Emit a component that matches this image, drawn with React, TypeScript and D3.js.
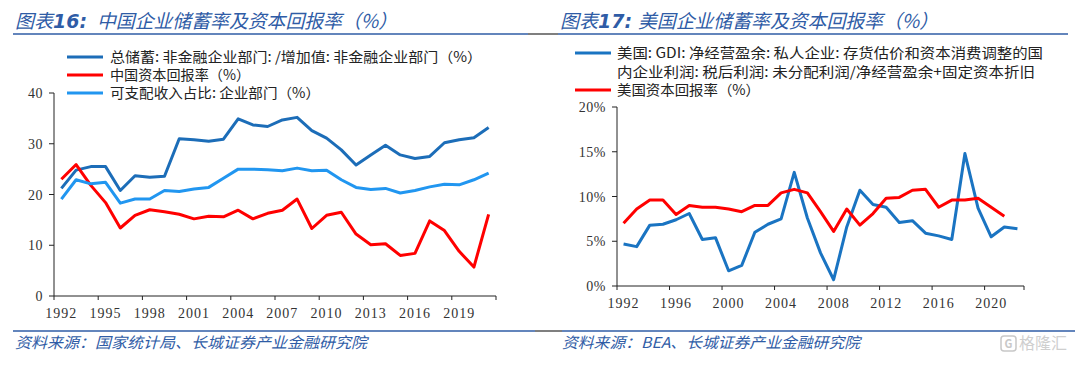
import * as d3 from 'd3'

// ---- data: China panel ----
const YEARS_CN = ['1992', '1993', '1994', '1995', '1996', '1997', '1998', '1999', '2000', '2001', '2002', '2003', '2004', '2005', '2006',
  '2007', '2008', '2009', '2010', '2011', '2012', '2013', '2014', '2015', '2016', '2017', '2018', '2019', '2020', '2021']
const CN_SAVING = [21.2, 24.8, 25.5, 25.5, 20.8, 23.7, 23.4, 23.6, 31.0, 30.8, 30.5, 30.9, 34.9, 33.7, 33.4,
  34.7, 35.2, 32.6, 31.1, 28.8, 25.8, 27.8, 29.7, 27.8, 27.1, 27.5, 30.2, 30.8, 31.2, 33.2]
const CN_ROR = [23.0, 25.9, 21.8, 18.4, 13.4, 15.9, 17.0, 16.6, 16.1, 15.2, 15.7, 15.6, 16.9, 15.2, 16.3,
  16.9, 19.1, 13.3, 15.9, 16.5, 12.2, 10.1, 10.3, 8.0, 8.4, 14.8, 12.9, 8.8, 5.7, 16.1]
const CN_DISP = [19.1, 22.9, 22.1, 22.4, 18.3, 19.1, 19.1, 20.8, 20.6, 21.1, 21.4, 23.2, 25.0, 25.0, 24.9,
  24.7, 25.2, 24.7, 24.8, 22.9, 21.4, 21.0, 21.2, 20.3, 20.8, 21.5, 22.0, 21.9, 22.9, 24.2]
const CN_Y_TICKS = [0, 10, 20, 30, 40]

// ---- data: US panel ----
const YEARS_US = ['1992', '1993', '1994', '1995', '1996', '1997', '1998', '1999', '2000', '2001', '2002', '2003', '2004', '2005', '2006',
  '2007', '2008', '2009', '2010', '2011', '2012', '2013', '2014', '2015', '2016', '2017', '2018', '2019', '2020', '2021', '2022']
const US_GDI = [4.7, 4.4, 6.8, 6.9, 7.4, 8.1, 5.2, 5.4, 1.7, 2.3, 6.0, 6.9, 7.5, 12.7, 7.6,
  3.7, 0.7, 6.6, 10.7, 9.1, 8.8, 7.1, 7.3, 5.9, 5.6, 5.2, 14.8, 8.7, 5.5, 6.6, 6.4]
const US_ROR = [7.0, 8.6, 9.6, 9.6, 8.0, 9.0, 8.8, 8.8, 8.6, 8.3, 9.0, 9.0, 10.4, 10.8, 10.4,
  8.3, 6.1, 8.6, 6.8, 8.1, 9.8, 9.9, 10.7, 10.8, 8.8, 9.6, 9.6, 9.8, 8.8, 7.8]
const US_Y_TICKS = [0, 5, 10, 15, 20]

const BLUE_DARK = '#1c6db8'
const BLUE_LIGHT = '#2196f0'
const RED = '#ff0000'
const US_BLUE = '#1a74c2'
const TITLE_C = '#2f5ca6'
const NUM_FONT = '"Liberation Serif", "Times New Roman", serif'
const CJK_FONT = '"Noto Sans CJK SC", sans-serif'

type Series = { values: number[]; color: string }

function Panel(props: {
  years: string[]; series: Series[]; yTicks: number[]; yMax: number
  x0: number; x1: number; yTop: number; yBot: number; every: number; fmt: (v: number) => string; labelDy: number
}) {
  const { years, series, yTicks, yMax, x0, x1, yTop, yBot, every, fmt, labelDy } = props
  const x = d3.scaleBand().domain(years).range([x0, x1])
  const y = d3.scaleLinear().domain([0, yMax]).range([yBot, yTop])
  const bw = x.bandwidth()
  const line = d3.line<number>().x((_, i) => (x(years[i]) as number) + bw / 2).y((d) => y(d))
  const tickYears = years.filter((_, i) => i % every === 0)
  return (
    <g>
      {series.map((s, i) => (
        <path key={i} d={line(s.values) || ''} fill="none" stroke={s.color} strokeWidth={3} strokeLinejoin="round" />
      ))}
      <line x1={x0} x2={x0} y1={yTop} y2={yBot} stroke="#222" strokeWidth={1} />
      <line x1={x0} x2={x1} y1={yBot} y2={yBot} stroke="#222" strokeWidth={1} />
      {yTicks.map((t) => (
        <g key={t}>
          <line x1={x0 - 5} x2={x0} y1={y(t)} y2={y(t)} stroke="#222" />
          <text x={x0 - 11} y={y(t) + 5} textAnchor="end" fontFamily={NUM_FONT} fontSize={14} letterSpacing={0.5} fill="#333">{fmt(t)}</text>
        </g>
      ))}
      {tickYears.map((yr) => (
        <g key={yr}>
          <line x1={x(yr)} x2={x(yr)} y1={yBot} y2={yBot + 4} stroke="#222" />
          <text x={(x(yr) as number) + bw / 2} y={yBot + labelDy} textAnchor="middle" fontFamily={NUM_FONT} fontSize={14} letterSpacing={1} fill="#333">{yr}</text>
        </g>
      ))}
      <line x1={x1} x2={x1} y1={yBot} y2={yBot + 4} stroke="#222" />
    </g>
  )
}

function LegendRow(p: { x: number; y: number; color: string }) {
  return <line x1={p.x} x2={p.x + 36} y1={p.y} y2={p.y} stroke={p.color} strokeWidth={3} />
}

function LText(p: { x: number; y: number; text: string; w: number }) {
  return (
    <text x={p.x} y={p.y + 5} fontFamily={CJK_FONT} fontSize={14} fill="#222" textLength={p.w} lengthAdjust="spacingAndGlyphs">{p.text}</text>
  )
}

function Title(p: { x: number; num: string; text: string; tx: number; tw: number }) {
  return (
    <g fill={TITLE_C} fontStyle="italic">
      <text x={p.x} y={28} fontFamily={CJK_FONT} fontSize={19}>
        图表<tspan fontFamily="'DejaVu Sans', sans-serif" fontWeight="bold">{p.num}</tspan>
      </text>
      <text x={p.tx} y={28} fontFamily={CJK_FONT} fontSize={19} textLength={p.tw} lengthAdjust="spacingAndGlyphs">{p.text}</text>
    </g>
  )
}

export default function App() {
  return (
    <svg width={1080} height={368} style={{ position: 'absolute', left: 0, top: 0, background: '#fff' }}>
      {/* titles */}
      <Title x={15} num="16:" text="中国企业储蓄率及资本回报率（%）" tx={97} tw={300} />
      <Title x={560} num="17:" text="美国企业储蓄率及资本回报率（%）" tx={638} tw={300} />
      <line x1={13} x2={528} y1={34} y2={34} stroke={TITLE_C} strokeWidth={1.5} />
      <line x1={528} x2={558} y1={34} y2={34} stroke="#555" strokeWidth={1.5} />
      <line x1={558} x2={1068} y1={34} y2={34} stroke={TITLE_C} strokeWidth={1.5} />

      {/* left legend */}
      <LegendRow x={67} y={57} color={BLUE_DARK} />
      <LText x={110} y={57} text="总储蓄: 非金融企业部门: /增加值: 非金融企业部门（%）" w={372} />
      <LegendRow x={67} y={75} color={RED} />
      <LText x={110} y={75} text="中国资本回报率（%）" w={140} />
      <LegendRow x={67} y={93} color={BLUE_LIGHT} />
      <LText x={110} y={93} text="可支配收入占比: 企业部门（%）" w={210} />

      <Panel years={YEARS_CN} yTicks={CN_Y_TICKS} yMax={40} x0={54} x1={496} yTop={93} yBot={296} every={3}
        fmt={(v) => String(v)} labelDy={22}
        series={[{ values: CN_SAVING, color: BLUE_DARK }, { values: CN_ROR, color: RED }, { values: CN_DISP, color: BLUE_LIGHT }]} />

      {/* right legend */}
      <LegendRow x={575} y={53} color={US_BLUE} />
      <LText x={617} y={53} text="美国: GDI: 净经营盈余: 私人企业: 存货估价和资本消费调整的国" w={426} />
      <LText x={617} y={72} text="内企业利润: 税后利润: 未分配利润/净经营盈余+固定资本折旧" w={418} />
      <LegendRow x={575} y={90} color={RED} />
      <LText x={617} y={90} text="美国资本回报率（%）" w={143} />

      <Panel years={YEARS_US} yTicks={US_Y_TICKS} yMax={20} x0={617} x1={1024} yTop={107} yBot={286} every={4}
        fmt={(v) => `${v}%`} labelDy={22}
        series={[{ values: US_GDI, color: US_BLUE }, { values: US_ROR, color: RED }]} />

      {/* sources */}
      <line x1={13} x2={535} y1={331} y2={331} stroke={TITLE_C} strokeWidth={1.5} />
      <line x1={535} x2={562} y1={331} y2={331} stroke="#555" strokeWidth={1.5} />
      <line x1={562} x2={1075} y1={331} y2={331} stroke={TITLE_C} strokeWidth={1.5} />
      <text x={15} y={348} fontFamily={CJK_FONT} fontSize={15} fontStyle="italic" fill={TITLE_C} textLength={352} lengthAdjust="spacingAndGlyphs">资料来源：国家统计局、长城证券产业金融研究院</text>
      <text x={562} y={348} fontFamily={CJK_FONT} fontSize={15} fontStyle="italic" fill={TITLE_C} textLength={298} lengthAdjust="spacingAndGlyphs">资料来源：BEA、长城证券产业金融研究院</text>

      {/* watermark */}
      <rect x={1001} y={336} width={15} height={15} rx={3} fill="none" stroke="#c8c8c8" strokeWidth={1.5} />
      <text x={1008.5} y={348} textAnchor="middle" fontFamily={CJK_FONT} fontSize={11} fontWeight="bold" fill="#c8c8c8">G</text>
      <text x={1019} y={349} fontFamily={CJK_FONT} fontSize={16} fill="#cfcfcf">格隆汇</text>
    </svg>
  )
}
